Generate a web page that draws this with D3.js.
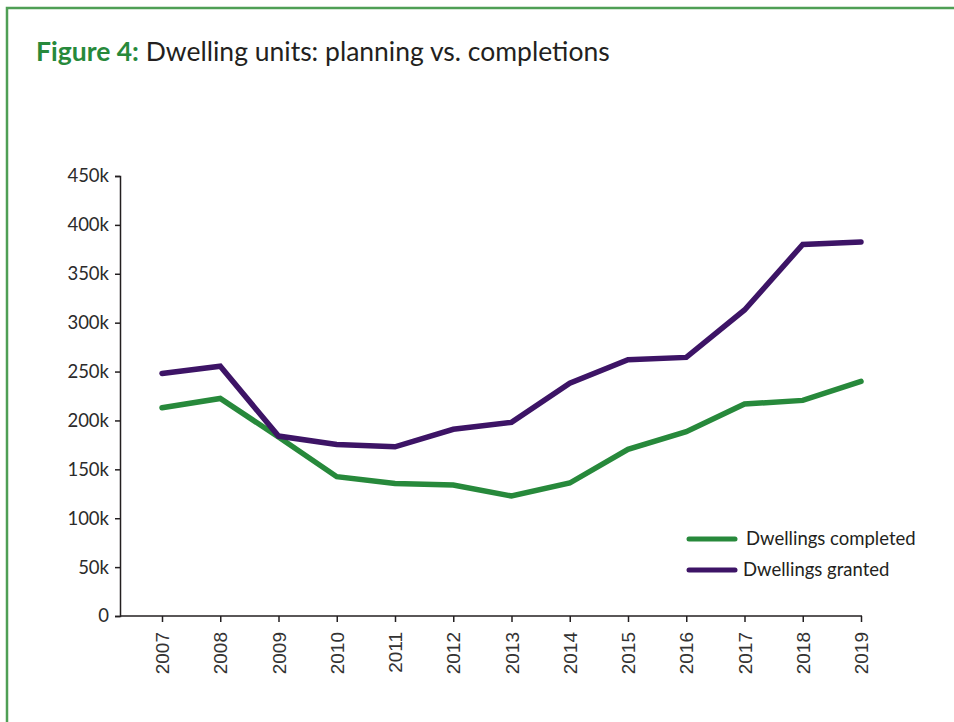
<!DOCTYPE html>
<html>
<head>
<meta charset="utf-8">
<script src="https://cdn.jsdelivr.net/npm/d3@7"></script>
<style>
  body { margin: 0; background: #fff; }
  svg { display: block; }
</style>
</head>
<body>
<svg id="chart" width="954" height="722"></svg>
<script>
// data
var years = ["2007","2008","2009","2010","2011","2012","2013","2014","2015","2016","2017","2018","2019"]
var completed = [213000, 222500, 183000, 142500, 135500, 134000, 122700, 136000, 170500, 188500, 216800, 220500, 240000]
var granted = [248000, 255500, 184000, 175500, 173000, 191000, 198000, 238000, 262000, 264500, 313000, 380000, 382500]
var yTicks = [0, 50000, 100000, 150000, 200000, 250000, 300000, 350000, 400000, 450000]
var seriesNames = ["Dwellings completed", "Dwellings granted"]
var seriesColors = ["#27893b", "#3d1466"]

var svg = d3.select("#chart")

// green frame
svg.append("path")
    .attr("d", "M7,730 L7,8 L960,8")
    .attr("fill", "none")
    .attr("stroke", "#4f9f55")
    .attr("stroke-width", 2.5)

// title
var title = svg.append("text")
    .attr("x", 36)
    .attr("y", 61)
    .style("font-family", "Lato, 'Open Sans', sans-serif")
    .style("font-size", "26.5px")
title.append("tspan")
    .attr("fill", "#27893b")
    .style("font-weight", "bold")
    .text("Figure 4:")
title.append("tspan")
    .attr("fill", "#231f20")
    .text(" Dwelling units: planning vs. completions")

var xScale = d3.scalePoint()
    .domain(years)
    .range([162, 861])

var yScale = d3.scaleLinear()
    .domain([0, 450000])
    .range([616, 176])

// y axis
var yAxis = d3.axisLeft(yScale)
    .tickValues(yTicks)
    .tickSize(5)
    .tickSizeOuter(5)
    .tickFormat(d => d == 0 ? "0" : (d / 1000) + "k")

var gy = svg.append("g")
    .attr("transform", "translate(120,0)")
    .call(yAxis)
gy.select(".domain").attr("stroke", "#231f20").attr("stroke-width", 1.5)
gy.selectAll(".tick line").attr("stroke", "#231f20").attr("stroke-width", 1.5)
gy.selectAll(".tick text")
    .attr("x", -11)
    .attr("fill", "#2b2b2b")
    .style("font-family", "Lato, sans-serif")
    .style("font-size", "18.5px")

// x axis
var xAxis = d3.axisBottom(xScale)
    .tickSize(6)
    .tickSizeOuter(0)

var gx = svg.append("g")
    .attr("transform", "translate(0,616)")
    .call(xAxis)
gx.select(".domain").remove()
gx.append("line")
    .attr("x1", 120).attr("x2", 862)
    .attr("stroke", "#231f20")
    .attr("stroke-width", 1.5)
gx.selectAll(".tick line").attr("stroke", "#231f20").attr("stroke-width", 1.5)
gx.selectAll(".tick text")
    .attr("transform", "rotate(-90)")
    .attr("x", -16)
    .attr("y", 0)
    .attr("dy", "0.35em")
    .attr("text-anchor", "end")
    .attr("fill", "#333")
    .style("font-family", "'Liberation Sans', Arial, sans-serif")
    .style("font-size", "19px")

// lines
var line = d3.line()
    .x((d, i) => xScale(years[i]))
    .y(d => yScale(d))

var allSeries = [completed, granted]
svg.selectAll(".series")
    .data(allSeries)
    .enter()
    .append("path")
    .attr("class", "series")
    .attr("d", d => line(d))
    .attr("fill", "none")
    .attr("stroke", (d, i) => seriesColors[i])
    .attr("stroke-width", 5.5)
    .attr("stroke-linecap", "round")
    .attr("stroke-linejoin", "miter")

// legend
var legend = svg.selectAll(".legend")
    .data(seriesNames)
    .enter()
    .append("g")
    .attr("class", "legend")
    .attr("transform", (d, i) => "translate(689," + (539 + i * 31) + ")")
legend.append("line")
    .attr("x1", 0).attr("x2", 46)
    .attr("stroke", (d, i) => seriesColors[i])
    .attr("stroke-width", 5)
    .attr("stroke-linecap", "round")
legend.append("text")
    .attr("x", (d, i) => i == 0 ? 57 : 54)
    .attr("dy", "0.35em")
    .attr("fill", "#231f20")
    .style("font-family", "Lato, sans-serif")
    .style("font-size", "18.5px")
    .text(d => d)
</script>
</body>
</html>
